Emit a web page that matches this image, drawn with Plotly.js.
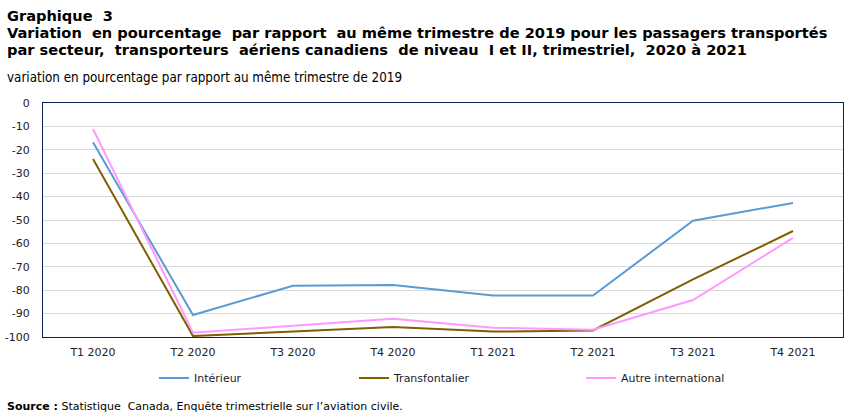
<!DOCTYPE html>
<html lang="fr">
<head>
<meta charset="utf-8">
<script src="https://cdn.plot.ly/plotly-3.0.1.min.js"></script>
<style>
  html, body { margin: 0; padding: 0; background: #ffffff; }
  #chart { width: 851px; height: 417px; }
</style>
</head>
<body>
<div id="chart"></div>
<script>
// Trimestres affichés sur l'axe horizontal
const trimestres = ['T1 2020', 'T2 2020', 'T3 2020', 'T4 2020', 'T1 2021', 'T2 2021', 'T3 2021', 'T4 2021'];

// Variation en pourcentage par rapport au même trimestre de 2019
const interieur          = [-16.8, -90.6, -78.1, -77.8, -82.3, -82.3, -50.3, -42.7];
const transfrontalier    = [-23.9, -99.6, -97.7, -95.7, -97.7, -97.2, -75.4, -54.7];
const autreInternational = [-11.1, -98.2, -95.2, -92.2, -96.0, -96.9, -84.2, -57.6];

// Graduations de l'axe vertical (avec trait d'union comme signe moins)
const yTickValeurs = [0, -10, -20, -30, -40, -50, -60, -70, -80, -90, -100];
const yTickTextes  = ['0', '-10', '-20', '-30', '-40', '-50', '-60', '-70', '-80', '-90', '-100'];

const nomsSeries = ['Intérieur', 'Transfontalier', 'Autre international'];
const couleurs = ['#5b9bd5', '#7f6000', '#ff99ff'];

// Lignes du titre
const titreLignes = [
  'Graphique  3',
  'Variation  en pourcentage  par rapport  au même trimestre de 2019 pour les passagers transportés',
  'par secteur,  transporteurs  aériens canadiens  de niveau  I et II, trimestriel,  2020 à 2021'
];
const sousTitre = 'variation en pourcentage par rapport au même trimestre de 2019';
const source = '<b>Source :</b> Statistique  Canada, Enquête trimestrielle sur l’aviation civile.';

const police = 'Verdana, "DejaVu Sans", sans-serif';
const plotLeft = 43, plotRight = 8, plotTop = 103, plotBottom = 80;
const plotW = 851 - plotLeft - plotRight;
const plotH = 417 - plotTop - plotBottom;

// conversion pixels de la page -> coordonnées papier
const px = x => (x - plotLeft) / plotW;
const py = y => (plotTop + plotH - y) / plotH;

function trace(values, i) {
  return {
    type: 'scatter',
    mode: 'lines',
    x: trimestres,
    y: values,
    name: nomsSeries[i],
    line: { color: couleurs[i], width: 2 },
    legend: i === 0 ? 'legend' : 'legend' + (i + 1),
    hoverinfo: 'x+y+name'
  };
}

const data = [
  trace(interieur, 0),
  trace(transfrontalier, 1),
  trace(autreInternational, 2)
];

// Chaque série a sa propre légende, alignées sur une même ligne sous le graphique
function legende(left) {
  return {
    x: px(left),
    xanchor: 'left',
    y: py(378),
    yanchor: 'middle',
    orientation: 'h',
    bgcolor: 'rgba(0,0,0,0)',
    borderwidth: 0,
    font: { family: police, size: 11, color: '#1a1a2a' }
  };
}

const annotations = titreLignes.map((t, i) => ({
  text: '<b>' + t + '</b>',
  xref: 'paper', yref: 'paper',
  x: px(5), xanchor: 'left',
  y: py(15 + i * 17.5), yanchor: 'middle',
  showarrow: false,
  font: { family: '"DejaVu Sans", Verdana, sans-serif', size: 14.6, color: '#000000' }
}));

annotations.push(
  {
    text: sousTitre,
    xref: 'paper', yref: 'paper',
    x: px(5), xanchor: 'left',
    y: py(78), yanchor: 'middle',
    showarrow: false,
    font: { family: '"Liberation Sans Narrow", "DejaVu Sans Condensed", sans-serif', size: 13.3, color: '#000000' }
  },
  {
    text: source,
    xref: 'paper', yref: 'paper',
    x: px(5), xanchor: 'left',
    y: py(406), yanchor: 'middle',
    showarrow: false,
    font: { family: police, size: 11, color: '#000000' }
  }
);

const layout = {
  width: 851,
  height: 417,
  margin: { l: plotLeft, r: plotRight, t: plotTop, b: plotBottom, pad: 0 },
  paper_bgcolor: '#ffffff',
  plot_bgcolor: '#ffffff',
  showlegend: true,
  xaxis: {
    type: 'category',
    range: [-0.5, trimestres.length - 0.5],
    showgrid: false,
    zeroline: false,
    showline: true,
    mirror: true,
    linecolor: '#0b2256',
    linewidth: 1,
    ticks: '',
    tickfont: { family: police, size: 11, color: '#222222' },
    ticklabelstandoff: 5,
    fixedrange: true
  },
  yaxis: {
    range: [-100, 0],
    tickmode: 'array',
    tickvals: yTickValeurs,
    ticktext: yTickTextes,
    showgrid: true,
    gridcolor: '#d9d9d9',
    gridwidth: 1,
    zeroline: false,
    showline: true,
    mirror: true,
    linecolor: '#0b2256',
    linewidth: 1,
    ticks: '',
    tickfont: { family: police, size: 11, color: '#222222' },
    ticklabelstandoff: 10,
    fixedrange: true
  },
  legend: legende(154),
  legend2: legende(354),
  legend3: legende(581),
  annotations: annotations
};

Plotly.newPlot('chart', data, layout, { displayModeBar: false });
</script>
</body>
</html>
